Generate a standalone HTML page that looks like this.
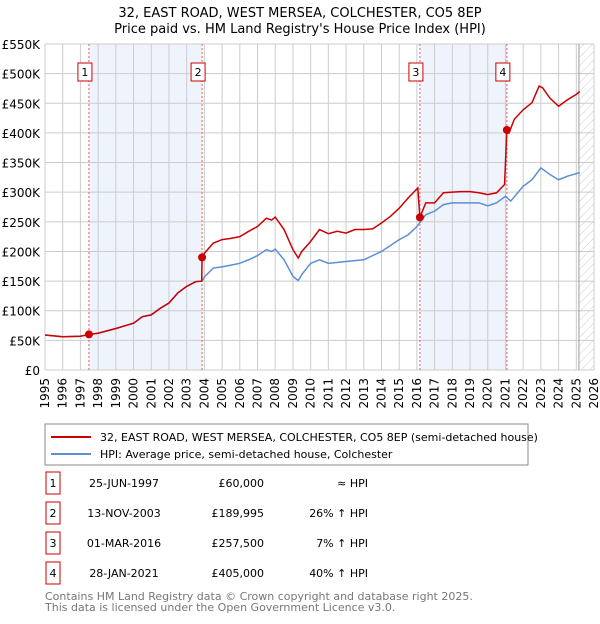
<!DOCTYPE html>
<html><head><meta charset="utf-8"><style>
body{margin:0;background:#fff;font-family:"DejaVu Sans","Liberation Sans",sans-serif;}
svg text{font-family:"DejaVu Sans","Liberation Sans",sans-serif;}
</style></head><body>
<svg id="c" width="600" height="620" xmlns="http://www.w3.org/2000/svg">
<defs><pattern id="hatch" width="6" height="6" patternUnits="userSpaceOnUse" patternTransform="rotate(45)"><line x1="0" y1="0" x2="0" y2="6" stroke="#ccc" stroke-width="1"/></pattern></defs>
<text x="300" y="17" text-anchor="middle" font-size="13">32, EAST ROAD, WEST MERSEA, COLCHESTER, CO5 8EP</text>
<text x="300" y="33" text-anchor="middle" font-size="13">Price paid vs. HM Land Registry's House Price Index (HPI)</text>
<g id="plot"></g>
<rect x="45" y="424" width="483" height="41" fill="#fff" stroke="#888"/>
<line x1="51" y1="437" x2="91" y2="437" stroke="#cc0000" stroke-width="2"/>
<text x="100" y="441" font-size="11">32, EAST ROAD, WEST MERSEA, COLCHESTER, CO5 8EP (semi-detached house)</text>
<line x1="51" y1="454" x2="91" y2="454" stroke="#5b8fd4" stroke-width="2"/>
<text x="100" y="458" font-size="11">HPI: Average price, semi-detached house, Colchester</text>
<g id="table" font-size="11"></g>
<text x="45" y="600" font-size="11" fill="#777">Contains HM Land Registry data © Crown copyright and database right 2025.</text>
<text x="45" y="611" font-size="11" fill="#777">This data is licensed under the Open Government Licence v3.0.</text>
</svg>
<script>
const yTicks=[0,50,100,150,200,250,300,350,400,450,500,550];
const yTickLabels=["£0","£50K","£100K","£150K","£200K","£250K","£300K","£350K","£400K","£450K","£500K","£550K"];
const xYears=[1995,1996,1997,1998,1999,2000,2001,2002,2003,2004,2005,2006,2007,2008,2009,2010,2011,2012,2013,2014,2015,2016,2017,2018,2019,2020,2021,2022,2023,2024,2025,2026];
const priceT=[1995,1996,1997,1997.48,1998,1999,2000,2000.5,2001,2001.5,2002,2002.5,2003,2003.5,2003.85,2003.87,2004,2004.5,2005,2005.5,2006,2006.5,2007,2007.5,2007.8,2008,2008.5,2009,2009.3,2009.5,2010,2010.5,2011,2011.5,2012,2012.5,2013,2013.5,2014,2014.5,2015,2015.5,2016.05,2016.17,2016.5,2017,2017.5,2018,2018.5,2019,2019.5,2020,2020.5,2020.95,2021.08,2021.2,2021.5,2022,2022.5,2022.9,2023.1,2023.5,2024,2024.5,2025,2025.2];
const priceV=[59,56,57,60,62,70,79,90,93,104,113,130,141,149,150,190,197,214,220,222,225,234,242,256,253,258,237,203,189,200,217,237,230,234,231,237,237,238,248,259,273,290,307,257.5,282,282,299,300,301,301,299,296,299,313,405,400,423,439,451,479,476,459,445,456,465,470];
const hpiT=[1995,1996,1997,1997.48,1998,1999,2000,2000.5,2001,2001.5,2002,2002.5,2003,2003.5,2003.87,2004,2004.5,2005,2005.5,2006,2006.5,2007,2007.5,2007.8,2008,2008.5,2009,2009.3,2009.5,2010,2010.5,2011,2012,2013,2014,2015,2015.5,2016,2016.5,2017,2017.5,2018,2019,2019.5,2020,2020.5,2021,2021.3,2022,2022.5,2023,2023.5,2024,2024.5,2025.2];
const hpiV=[59,56,57,60,62,70,79,90,93,104,113,130,141,149,150,157,172,174,177,180,186,193,203,200,204,186,158,151,161,180,186,180,183,186,200,220,228,242,262,268,279,282,282,282,277,282,293,285,310,321,341,330,321,327,333];
const saleT=[1997.48,2003.87,2016.17,2021.08];
const saleV=[60,189.995,257.5,405];
const saleDate=["25-JUN-1997","13-NOV-2003","01-MAR-2016","28-JAN-2021"];
const salePrice=["£60,000","£189,995","£257,500","£405,000"];
const saleHpi=["≈ HPI","26% ↑ HPI","7% ↑ HPI","40% ↑ HPI"];
const NS="http://www.w3.org/2000/svg";
const X0=45,X1=594,Y0=370,Y1=44;
const xs=t=>X0+(t-1995)/(2026-1995)*(X1-X0);
const ys=v=>Y0-v/550*(Y0-Y1);
function mk(tag,attrs,parent){const e=document.createElementNS(NS,tag);for(const k in attrs)e.setAttribute(k,attrs[k]);parent.appendChild(e);return e;}
const g=document.getElementById('plot');
// shading
for(const [a,b] of [[0,1],[2,3]]){
 const r=mk('rect',{x:xs(saleT[a]),y:Y1,width:xs(saleT[b])-xs(saleT[a]),height:Y0-Y1,fill:'#eef3fc'},g);
 
 
}
const hz=mk('rect',{x:xs(2025.15),y:Y1,width:X1-xs(2025.15),height:Y0-Y1,fill:'url(#hatch)'},g);


// grid
yTicks.forEach((v,i)=>{
 const l=mk('line',{x1:X0,x2:X1,y1:ys(v),y2:ys(v),stroke:'#ccc'},g);
 
 
 const t=mk('text',{x:40,y:ys(v)+5,'text-anchor':'end','font-size':12},g);
 t.textContent=yTickLabels[i];
 
 
});
xYears.forEach(yr=>{
 const l=mk('line',{x1:xs(yr),x2:xs(yr),y1:Y1,y2:Y0,stroke:'#ccc'},g);
 
 
 const t=mk('text',{x:0,y:0,'text-anchor':'end','font-size':12,transform:`translate(${xs(yr)+4},${Y0+8}) rotate(-90)`},g);
 t.textContent=yr;
 
 
});
const vl=mk('line',{x1:xs(2025.15),x2:xs(2025.15),y1:Y1,y2:Y0,stroke:'#999'},g);


// sale lines + labels
saleT.forEach((t,i)=>{
 const l=mk('line',{x1:xs(t),x2:xs(t),y1:Y1,y2:Y0,stroke:'#e06060','stroke-dasharray':'2,2'},g);
 
 
 const b=mk('rect',{x:xs(t)-11,y:63,width:14,height:18,fill:'#fff',stroke:'#cc0000'},g);
 
 
 const tx=mk('text',{x:xs(t)-4,y:76,'text-anchor':'middle','font-size':11},g);
 tx.textContent=String(i+1);
 
 
});
const hp=mk('polyline',{points:hpiT.map((t,i)=>xs(t)+','+ys(hpiV[i])).join(' '),fill:'none',stroke:'#5b8fd4','stroke-width':1.5},g);


const pp=mk('polyline',{points:priceT.map((t,i)=>xs(t)+','+ys(priceV[i])).join(' '),fill:'none',stroke:'#cc0000','stroke-width':1.5},g);


saleT.forEach((t,i)=>{
 const c=mk('circle',{cx:xs(t),cy:ys(saleV[i]),r:4,fill:'#cc0000'},g);
 
 
});
// table
const tb=document.getElementById('table');
saleT.forEach((t,i)=>{
 const y=483+i*30;
 const b=mk('rect',{x:46,y:y-11,width:14,height:22,fill:'#fff',stroke:'#cc0000'},tb);
 
 
 const cells=[[53,'middle',String(i+1),'table-number'],[124,'middle',saleDate[i],'table-date'],[264,'end',salePrice[i],'table-price'],[368,'end',saleHpi[i],'table-hpi-diff']];
 cells.forEach(c=>{
  const tx=mk('text',{x:c[0],y:y+4,'text-anchor':c[1]},tb);
  tx.textContent=c[2];
  
  
 });
});
</script>
</body></html>
